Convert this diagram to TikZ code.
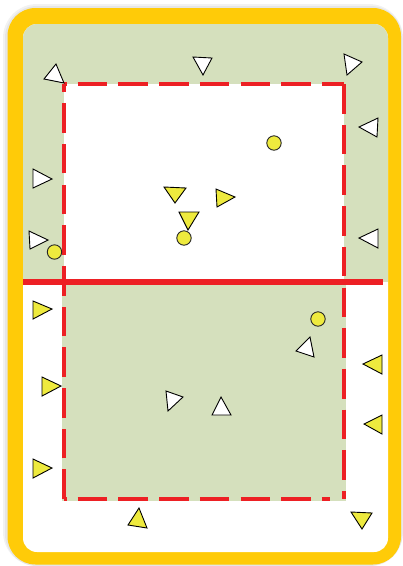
\documentclass[tikz,border=0pt]{standalone}
\definecolor{cardyellow}{RGB}{255,203,8}
\definecolor{pitchgreen}{RGB}{213,224,189}
\definecolor{linered}{RGB}{237,32,36}
\definecolor{coneyellow}{RGB}{238,234,62}
\tikzset{
  wtri/.style={draw=black, line width=0.9pt, fill=white, line join=miter},
  ytri/.style={draw=black, line width=0.9pt, fill=coneyellow, line join=miter},
  ball/.style={draw=black!85, line width=0.9pt, fill=coneyellow},
  zone/.style={linered, line width=4pt, dash pattern=on 29.6pt off 11.1pt},
  midline/.style={linered, line width=6.5pt}
}
\begin{document}
\begin{tikzpicture}[x=1pt,y=-1pt]
\useasboundingbox (0,0) rectangle (403,566);
% soft shadow
\fill[black, opacity=0.05, rounded corners=34pt] (3,4) rectangle (403,566);
\fill[black, opacity=0.05, rounded corners=32pt] (5,6) rectangle (402.5,566);
% card
\fill[cardyellow, rounded corners=28pt] (7.5,8) rectangle (401,564.5);
\fill[white, rounded corners=14pt] (23,24) rectangle (388,552);
\begin{scope}
  \clip[rounded corners=14pt] (23,24) rectangle (388,552);
  \fill[pitchgreen] (23,24) rectangle (388,282);
\end{scope}
\fill[white] (64,84) rectangle (344,282);
\fill[pitchgreen] (62,282) rectangle (346.3,500.7);
% halfway line
\draw[midline] (23,282) -- (383,282);
% dashed zone
\draw[zone, dash phase=27pt] (64,84) -- (344,84);
\draw[zone] (344,84) -- (344,499);
\draw[zone, dash phase=27pt] (64,499) -- (329.5,499);
\draw[zone] (64,499) -- (64,84);
% white cones
\draw[wtri] (56,64) -- (44,79) -- (64,83) -- cycle;
\draw[wtri] (193,57) -- (212,58) -- (203,75) -- cycle;
\draw[wtri] (344,54) -- (362,62) -- (347,75) -- cycle;
\draw[wtri] (378,118) -- (359,127) -- (377,137) -- cycle;
\draw[wtri] (378,229) -- (359,238) -- (378,248) -- cycle;
\draw[wtri] (33,169) -- (52,179) -- (33,188) -- cycle;
\draw[wtri] (29,231) -- (48,240) -- (30,249) -- cycle;
\draw[wtri] (310,337) -- (296,351) -- (314,357) -- cycle;
\draw[wtri] (221,397) -- (212,415) -- (231,415) -- cycle;
\draw[wtri] (166,391) -- (183,397) -- (168,411) -- cycle;
% yellow cones
\draw[ytri] (164,187) -- (186,188) -- (175,203) -- cycle;
\draw[ytri] (179,212) -- (199,212) -- (188,230) -- cycle;
\draw[ytri] (216,189) -- (235,197) -- (217,207) -- cycle;
\draw[ytri] (33,301) -- (52,309) -- (33,319) -- cycle;
\draw[ytri] (42,377) -- (61,386) -- (42,396) -- cycle;
\draw[ytri] (33,459) -- (52,468) -- (33,478) -- cycle;
\draw[ytri] (139,508) -- (128,525) -- (147,528) -- cycle;
\draw[ytri] (382,355) -- (363,364) -- (382,374) -- cycle;
\draw[ytri] (382,415) -- (364,424) -- (382,434) -- cycle;
\draw[ytri] (351,512) -- (372,513) -- (362,529) -- cycle;
% balls
\draw[ball] (184,238) circle (7.2pt);
\draw[ball] (54.5,252) circle (7.2pt);
\draw[ball] (274,143) circle (7.2pt);
\draw[ball] (318,319) circle (7.2pt);
\end{tikzpicture}
\end{document}
